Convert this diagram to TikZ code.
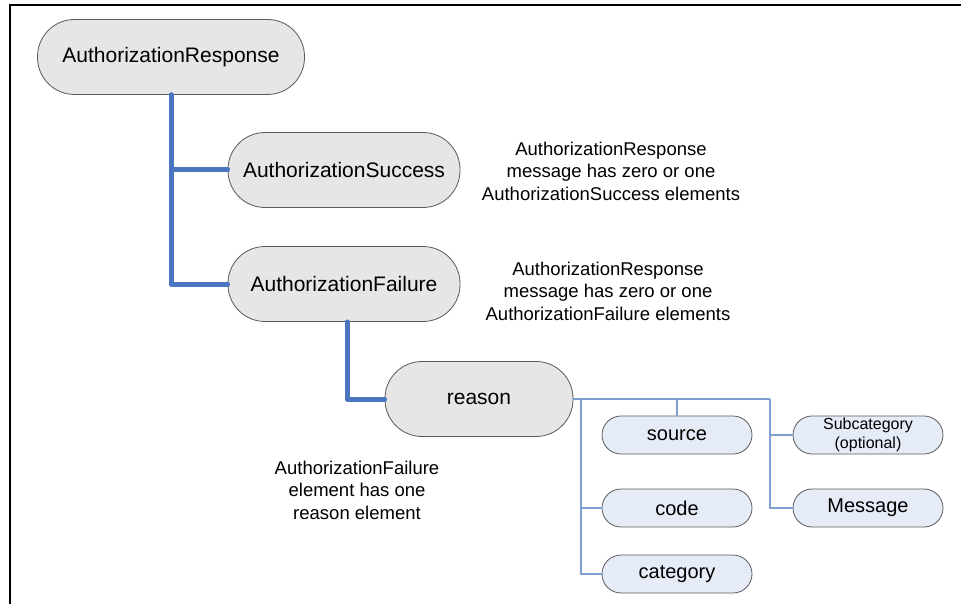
\documentclass[tikz,border=0pt]{standalone}
\usepackage{fontspec}
\setmainfont{Liberation Sans}
\definecolor{nodegray}{HTML}{E6E6E6}
\definecolor{nodeblue}{HTML}{E6ECF7}
\definecolor{edgegray}{HTML}{5A5A5A}
\definecolor{thickblue}{HTML}{4A76C0}
\definecolor{thinblue}{HTML}{7F9FD4}
\tikzset{
  bignode/.style={draw=edgegray, line width=0.8pt, fill=nodegray, rounded corners=37pt,
    minimum width=#1, minimum height=75pt, inner sep=0pt, font=\fontsize{21}{24}\selectfont},
  smallnode/.style={draw=edgegray, line width=0.8pt, fill=nodeblue, rounded corners=19pt,
    minimum width=150pt, minimum height=38pt, inner sep=0pt, font=\fontsize{20}{23}\selectfont},
  note/.style={align=center, inner sep=0pt, font=\fontsize{18.5}{22.5}\selectfont},
  thickline/.style={draw=thickblue, line width=5pt, line cap=round, line join=round},
  thinline/.style={draw=thinblue, line width=1.2pt},
}
\begin{document}
\begin{tikzpicture}[x=1pt, y=-1pt]
\useasboundingbox (0,0) rectangle (961,604);
\draw[line width=2.5pt] (10,604) -- (10,5) -- (961,5);

\node[bignode=267pt] (resp) at (171,57) {AuthorizationResponse};
\node[bignode=232pt] (succ) at (344,170) {AuthorizationSuccess};
\node[bignode=232pt] (fail) at (344,284) {AuthorizationFailure};
\node[bignode=188pt] (reason) at (479,399) {reason};

\node[smallnode] (source) at (677,435) {source};
\node[smallnode] (code) at (677,508) {code};
\node[smallnode] (category) at (677,574) {category};
\node[smallnode, font=\fontsize{16}{19}\selectfont, align=center] (subcat) at (868,435) {Subcategory\\(optional)};
\node[smallnode] (message) at (868,508) {Message};

\node[note] (n1) at (611,171) {AuthorizationResponse\\message has zero or one\\AuthorizationSuccess elements};
\node[note] (n2) at (608,291) {AuthorizationResponse\\message has zero or one\\AuthorizationFailure elements};
\node[note] (n3) at (357,490) {AuthorizationFailure\\element has one\\reason element};

\coordinate (b1) at (581,399);
\coordinate (b2) at (770,399);

\draw[thickline] (resp.south) |- (succ.west);
\draw[thickline] (resp.south) |- (fail.west);
\draw[thickline] ([xshift=3pt]fail.south) |- (reason.west);

\draw[thinline] (reason.east) -- (b2);
\draw[thinline] (b1) |- (category.west);
\draw[thinline] (b1 |- code.west) -- (code.west);
\draw[thinline] (source.north) -- (source.north |- b1);
\draw[thinline] (b2) |- (message.west);
\draw[thinline] (b2 |- subcat.west) -- (subcat.west);
\end{tikzpicture}
\end{document}
